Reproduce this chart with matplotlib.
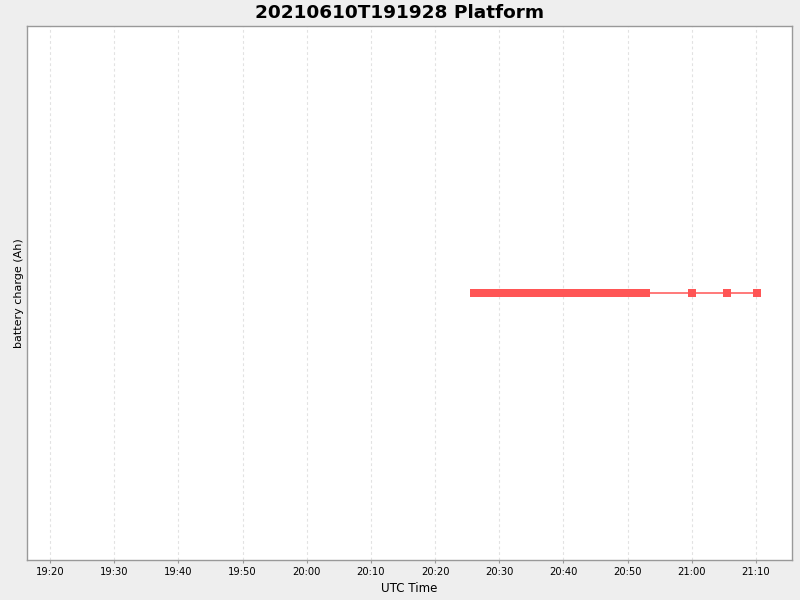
import numpy as np
import pandas as pd
import matplotlib
matplotlib.use("Agg")
import matplotlib.pyplot as plt
import matplotlib.dates as mdates

# battery charge samples (value is flat; y axis has no labels)
times = [
    "20:26:08", "20:26:38", "20:27:08", "20:27:38", "20:28:08", "20:28:38", "20:29:08",
    "20:29:38", "20:30:08", "20:30:38", "20:31:08", "20:31:38", "20:32:08", "20:32:38",
    "20:33:08", "20:33:38", "20:34:08", "20:34:38", "20:35:08", "20:35:38", "20:36:08",
    "20:36:38", "20:37:08", "20:37:38", "20:38:08", "20:38:38", "20:39:08", "20:39:38",
    "20:40:08", "20:40:38", "20:41:08", "20:41:38", "20:42:08", "20:42:38", "20:43:08",
    "20:43:38", "20:44:08", "20:44:38", "20:45:08", "20:45:38", "20:46:08", "20:46:38",
    "20:47:08", "20:47:38", "20:48:08", "20:48:38", "20:49:08", "20:49:38", "20:50:08",
    "20:50:38", "20:51:08", "20:51:38", "20:52:08", "20:52:38", "20:52:56",
    "21:00:00", "21:05:28", "21:10:12",
]
charge = [0.0] * len(times)

x_start = "2021-06-10 19:16:25"
x_end = "2021-06-10 21:15:37"

t = pd.to_datetime(["2021-06-10 " + s for s in times])

fig = plt.figure(figsize=(8, 6), dpi=100, facecolor="#eeeeee")
ax = fig.add_axes([27/800, 40/600, 765/800, 534/600])
ax.set_facecolor("white")

ax.plot(t, charge, color="#ff5555", lw=1.1, marker="s", ms=5.4, mew=0)

ax.set_xlim(pd.Timestamp(x_start), pd.Timestamp(x_end))
ax.set_ylim(-1, 1)
ax.xaxis.set_major_locator(mdates.MinuteLocator(byminute=range(0, 60, 10)))
ax.xaxis.set_major_formatter(mdates.DateFormatter("%H:%M"))
ax.set_yticks([])
ax.tick_params(axis="x", labelsize=7.2, length=2, color="#999999", pad=3)
ax.grid(axis="x", color="#e2e2e2", ls=(0, (2.5, 2.5)), lw=0.8)
for sp in ax.spines.values():
    sp.set_color("#999999")
    sp.set_linewidth(1)

ax.set_xlabel("UTC Time", fontsize=8.6, labelpad=4)
ax.set_ylabel("battery charge (Ah)", fontsize=8.0, labelpad=2)
fig.suptitle("20210610T191928 Platform", fontsize=13.3, fontweight="heavy", y=0.993)

fig.savefig("out.png", dpi=100, facecolor=fig.get_facecolor())
